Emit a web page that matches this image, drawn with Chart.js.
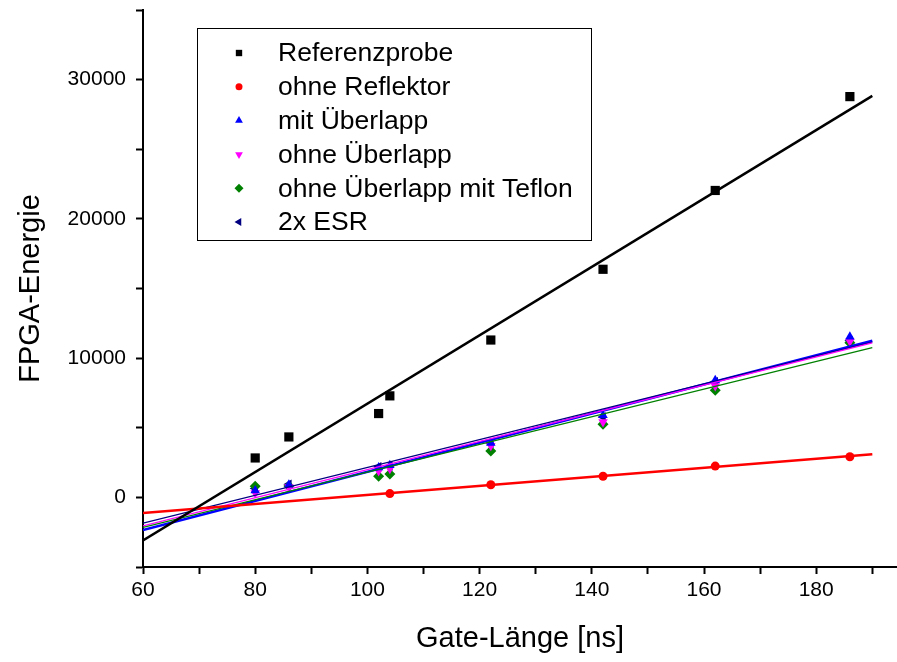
<!DOCTYPE html>
<html>
<head>
<meta charset="utf-8">
<script src="https://cdn.jsdelivr.net/npm/chart.js@4/dist/chart.umd.min.js"></script>
<style>
  html, body { margin: 0; padding: 0; background: #fff; }
  #wrap { width: 897px; height: 662px; }
</style>
</head>
<body>
<div id="wrap"><canvas id="energyChart" width="897" height="662"></canvas></div>
<script>
// Gate lengths (ns) of the measurements
const gateX = [80, 86, 102, 104, 122, 142, 162, 186];
const redX = [104, 122, 142, 162, 186];

// FPGA energy values
const referenz = [2830, 4340, 6020, 7290, 11300, 16380, 22040, 28780];
const ohneReflektor = [270, 910, 1520, 2245, 2920];
const mitUeberlapp = [500, 900, 2150, 2300, 3900, 5900, 8420, 11530];
const ohneUeberlapp = [310, 750, 1900, 2050, 3700, 5420, 8000, 11200];
const teflon = [790, 820, 1520, 1680, 3330, 5260, 7700, 11100];
const esr = [630, 950, 2200, 2250, 3860, 5780, 8300, 11250];

// linear fit lines, start/end values at x = 60 and x = 190
const fitX = [60, 190];
const fitReferenz = [-3100, 28830];
const fitReflektor = [-1130, 3095];
const fitMit = [-2350, 11250];
const fitOhne = [-2050, 11100];
const fitTeflon = [-2150, 10750];
const fitEsr = [-1850, 11150];

const labels = ['Referenzprobe', 'ohne Reflektor', 'mit Überlapp', 'ohne Überlapp',
  'ohne Überlapp mit Teflon', '2x ESR'];

const FONT = "'Liberation Sans', Arial, sans-serif";

function pts(xs, ys) {
  return xs.map((x, i) => ({ x: x, y: ys[i] }));
}

function fitLine(ys, color, width) {
  return {
    type: 'line',
    data: pts(fitX, ys),
    borderColor: color,
    borderWidth: width,
    pointRadius: 0,
    fill: false
  };
}

function marks(label, xs, ys, color, style, radius, rotation) {
  return {
    type: 'scatter',
    label: label,
    data: pts(xs, ys),
    backgroundColor: color,
    borderColor: color,
    borderWidth: 0,
    pointStyle: style,
    pointRadius: radius,
    pointRotation: rotation || 0,
    showLine: false
  };
}

// legend drawn inside the plot, like the original
const insideLegend = {
  id: 'insideLegend',
  afterDraw(chart) {
    const ctx = chart.ctx;
    const boxL = 197, boxT = 28, boxW = 394, boxH = 212;
    ctx.save();
    ctx.fillStyle = '#fff';
    ctx.fillRect(boxL, boxT, boxW, boxH);
    ctx.strokeStyle = '#000';
    ctx.lineWidth = 1;
    ctx.strokeRect(boxL + 0.5, boxT + 0.5, boxW, boxH);

    const markerStyles = [
      { pointStyle: 'rect', radius: 4.5, rotation: 0, color: '#000000' },
      { pointStyle: 'circle', radius: 3.5, rotation: 0, color: '#ff0000' },
      { pointStyle: 'triangle', radius: 4.5, rotation: 0, color: '#0000ff' },
      { pointStyle: 'triangle', radius: 4.5, rotation: 180, color: '#ff00ff' },
      { pointStyle: 'rectRot', radius: 4.5, rotation: 0, color: '#008000' },
      { pointStyle: 'triangle', radius: 4.5, rotation: 270, color: '#000080' }
    ];
    ctx.font = '26.5px ' + FONT;
    ctx.textBaseline = 'middle';
    ctx.textAlign = 'left';
    labels.forEach((text, i) => {
      const y = 53 + i * 33.8;
      const m = markerStyles[i];
      ctx.fillStyle = m.color;
      ctx.strokeStyle = m.color;
      Chart.helpers.drawPoint(ctx, {
        pointStyle: m.pointStyle, radius: m.radius, rotation: m.rotation, borderWidth: 0
      }, 239, y);
      ctx.fillStyle = '#000';
      ctx.fillText(text, 278, y + 1);
    });
    ctx.restore();
  }
};

const datasets = [
  fitLine(fitReferenz, '#000000', 2.5),
  fitLine(fitReflektor, '#ff0000', 2.5),
  fitLine(fitTeflon, '#008000', 1.2),
  fitLine(fitOhne, '#ff00ff', 1.2),
  fitLine(fitEsr, '#000080', 1.2),
  fitLine(fitMit, '#0000ff', 2.5),
  marks(labels[0], gateX, referenz, '#000000', 'rect', 6.5),
  marks(labels[1], redX, ohneReflektor, '#ff0000', 'circle', 4.5),
  marks(labels[2], gateX, mitUeberlapp, '#0000ff', 'triangle', 5.5),
  marks(labels[3], gateX, ohneUeberlapp, '#ff00ff', 'triangle', 5.5, 180),
  marks(labels[4], gateX, teflon, '#008000', 'rectRot', 5.5),
  marks(labels[5], gateX, esr, '#000080', 'triangle', 5.5, 270)
];

new Chart(document.getElementById('energyChart'), {
  type: 'scatter',
  data: { datasets: datasets },
  options: {
    responsive: false,
    animation: false,
    layout: { autoPadding: false, padding: { top: 10, right: 0, left: 0, bottom: 0 } },
    plugins: {
      legend: { display: false },
      tooltip: { enabled: false }
    },
    scales: {
      x: {
        type: 'linear',
        min: 60,
        max: 194.4,
        afterFit: s => { s.height = 95; s.paddingLeft = 0; s.paddingRight = 0; },
        border: { color: '#000', width: 2 },
        grid: { drawOnChartArea: false, drawTicks: true, tickLength: 7, tickColor: '#000', tickWidth: 2 },
        ticks: {
          stepSize: 10,
          includeBounds: false,
          autoSkip: false,
          maxRotation: 0,
          padding: 4,
          color: '#000',
          font: { family: FONT, size: 21 },
          callback: v => (v % 20 === 0 ? String(v) : '')
        },
        title: {
          display: true,
          text: 'Gate-Länge [ns]',
          color: '#000',
          font: { family: FONT, size: 29 },
          padding: { top: 0, bottom: 6 }
        }
      },
      y: {
        type: 'linear',
        min: -5000,
        max: 35000,
        afterFit: s => { s.width = 143; s.paddingTop = 0; s.paddingBottom = 0; },
        border: { color: '#000', width: 2 },
        grid: { drawOnChartArea: false, drawTicks: true, tickLength: 7, tickColor: '#000', tickWidth: 2 },
        ticks: {
          stepSize: 5000,
          includeBounds: false,
          autoSkip: false,
          padding: 10,
          color: '#000',
          font: { family: FONT, size: 21 },
          callback: v => (v % 10000 === 0 ? String(v) : '')
        },
        title: {
          display: true,
          text: 'FPGA-Energie',
          color: '#000',
          font: { family: FONT, size: 29 },
          padding: { top: 14, bottom: 0 }
        }
      }
    }
  },
  plugins: [insideLegend]
});
</script>
</body>
</html>
